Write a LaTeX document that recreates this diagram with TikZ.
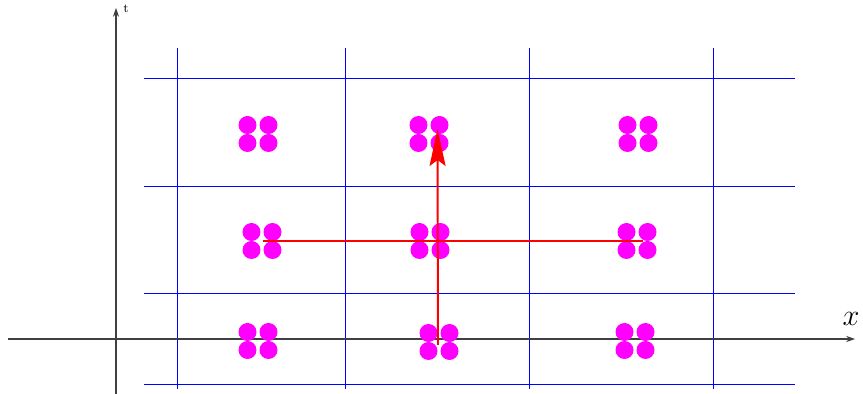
\documentclass[tikz,border=0pt]{standalone}
\usepackage{amsmath}
\usetikzlibrary{arrows.meta}
\definecolor{dotMagenta}{RGB}{255,0,255}

\begin{document}
\begin{tikzpicture}[x=0.02cm, y=-0.02cm,
    gridline/.style={blue, line width=0.5pt},
    axis/.style={-{Stealth[length=5pt, width=3.5pt]}, black!75, line width=0.6pt},
    dot/.style={circle, fill=dotMagenta, inner sep=0pt, minimum size=0.36cm},
    flow/.style={red, line width=1.1pt}
  ]
  \useasboundingbox (0,0) rectangle (863,394);

  % Grid
  \foreach \gy in {78, 186, 293, 384}
    \draw[gridline] (144,\gy) -- (795,\gy);
  \foreach \gx in {177, 345, 529, 713}
    \draw[gridline] (\gx,48) -- (\gx,389);

  % Axes
  \coordinate (xstart) at (8,339);
  \coordinate (xend) at (855,339);
  \coordinate (tstart) at (116,394);
  \coordinate (tend) at (116,8);
  \draw[axis] (xstart) -- (xend);
  \draw[axis] (tstart) -- (tend);
  \node (xlabel) at (851,319) {\LARGE $x$};
  \node (tlabel) at (126,9) {\scriptsize t};

  % Particle clusters
  \foreach \name/\cx/\cy in {t1/258/134, t2/429/134, t3/638/134,
                             m1/262/241, m2/430/241, m3/637/241,
                             b1/258/341, b2/439/342, b3/635/341} {
    \coordinate (\name) at (\cx,\cy);
    \foreach \dx in {-10.5, 10.5}
      \foreach \dy in {-9, 9}
        \node[dot] at (\cx+\dx,\cy+\dy) {};
  }

  % Moves
  \coordinate (left) at (263,241);
  \coordinate (right) at (643,241);
  \coordinate (low) at (438,345);
  \coordinate (up) at (437.5,129);
  \draw[flow] (left) -- (right);
  \draw[flow, -{Stealth[length=0.74cm, width=0.32cm, inset=0.12cm]}] (low) -- (up);
\end{tikzpicture}
\end{document}
